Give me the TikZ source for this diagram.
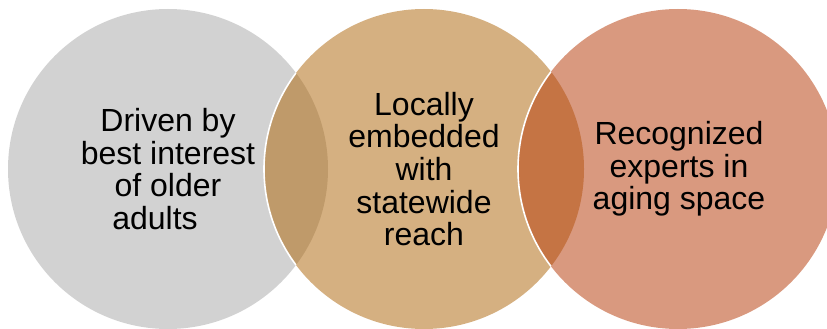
\documentclass[tikz,border=0pt]{standalone}
\usepackage{fontspec}
\setmainfont{Liberation Sans}
\definecolor{greyfill}{HTML}{D2D2D2}
\definecolor{tanfill}{HTML}{D5B081}
\definecolor{salmonfill}{HTML}{D9997F}
\definecolor{greytan}{HTML}{BF9A6A}
\definecolor{tansalmon}{HTML}{C57444}
\tikzset{
  venntext/.style={align=center, text=black,
    font=\fontsize{32pt}{32.6pt}\selectfont},
  rim/.style={draw=white, line width=1.6pt}
}
\begin{document}
\begin{tikzpicture}[x=1pt,y=-1pt]
\useasboundingbox (0,0) rectangle (827,329);
\clip (0,0) rectangle (827,329);
% circle centres
\coordinate (cA) at (168,169);
\coordinate (cB) at (424,169);
\coordinate (cC) at (678,169);
% base discs
\fill[greyfill] (cA) circle (160);
\fill[tanfill] (cB) circle (160);
\fill[salmonfill] (cC) circle (160);
% overlaps
\begin{scope}
  \clip (cA) circle (160);
  \fill[greytan] (cB) circle (160);
\end{scope}
\begin{scope}
  \clip (cB) circle (160);
  \fill[tansalmon] (cC) circle (160);
\end{scope}
% white rims where a disc lies over the one before it
\begin{scope}
  \clip (cA) circle (160);
  \draw[rim] (cB) circle (160);
\end{scope}
\begin{scope}
  \clip (cB) circle (160);
  \draw[rim] (cC) circle (160);
\end{scope}
% labels
\node[venntext] (tA) at (168,169) {Driven by\\best interest\\of older\\adults\hspace*{26pt}};
\node[venntext] (tB) at (424,169) {Locally\\embedded\\with\\statewide\\reach};
\node[venntext] (tC) at (679,169) {Recognized\\experts in\\aging space};
\end{tikzpicture}
\end{document}
